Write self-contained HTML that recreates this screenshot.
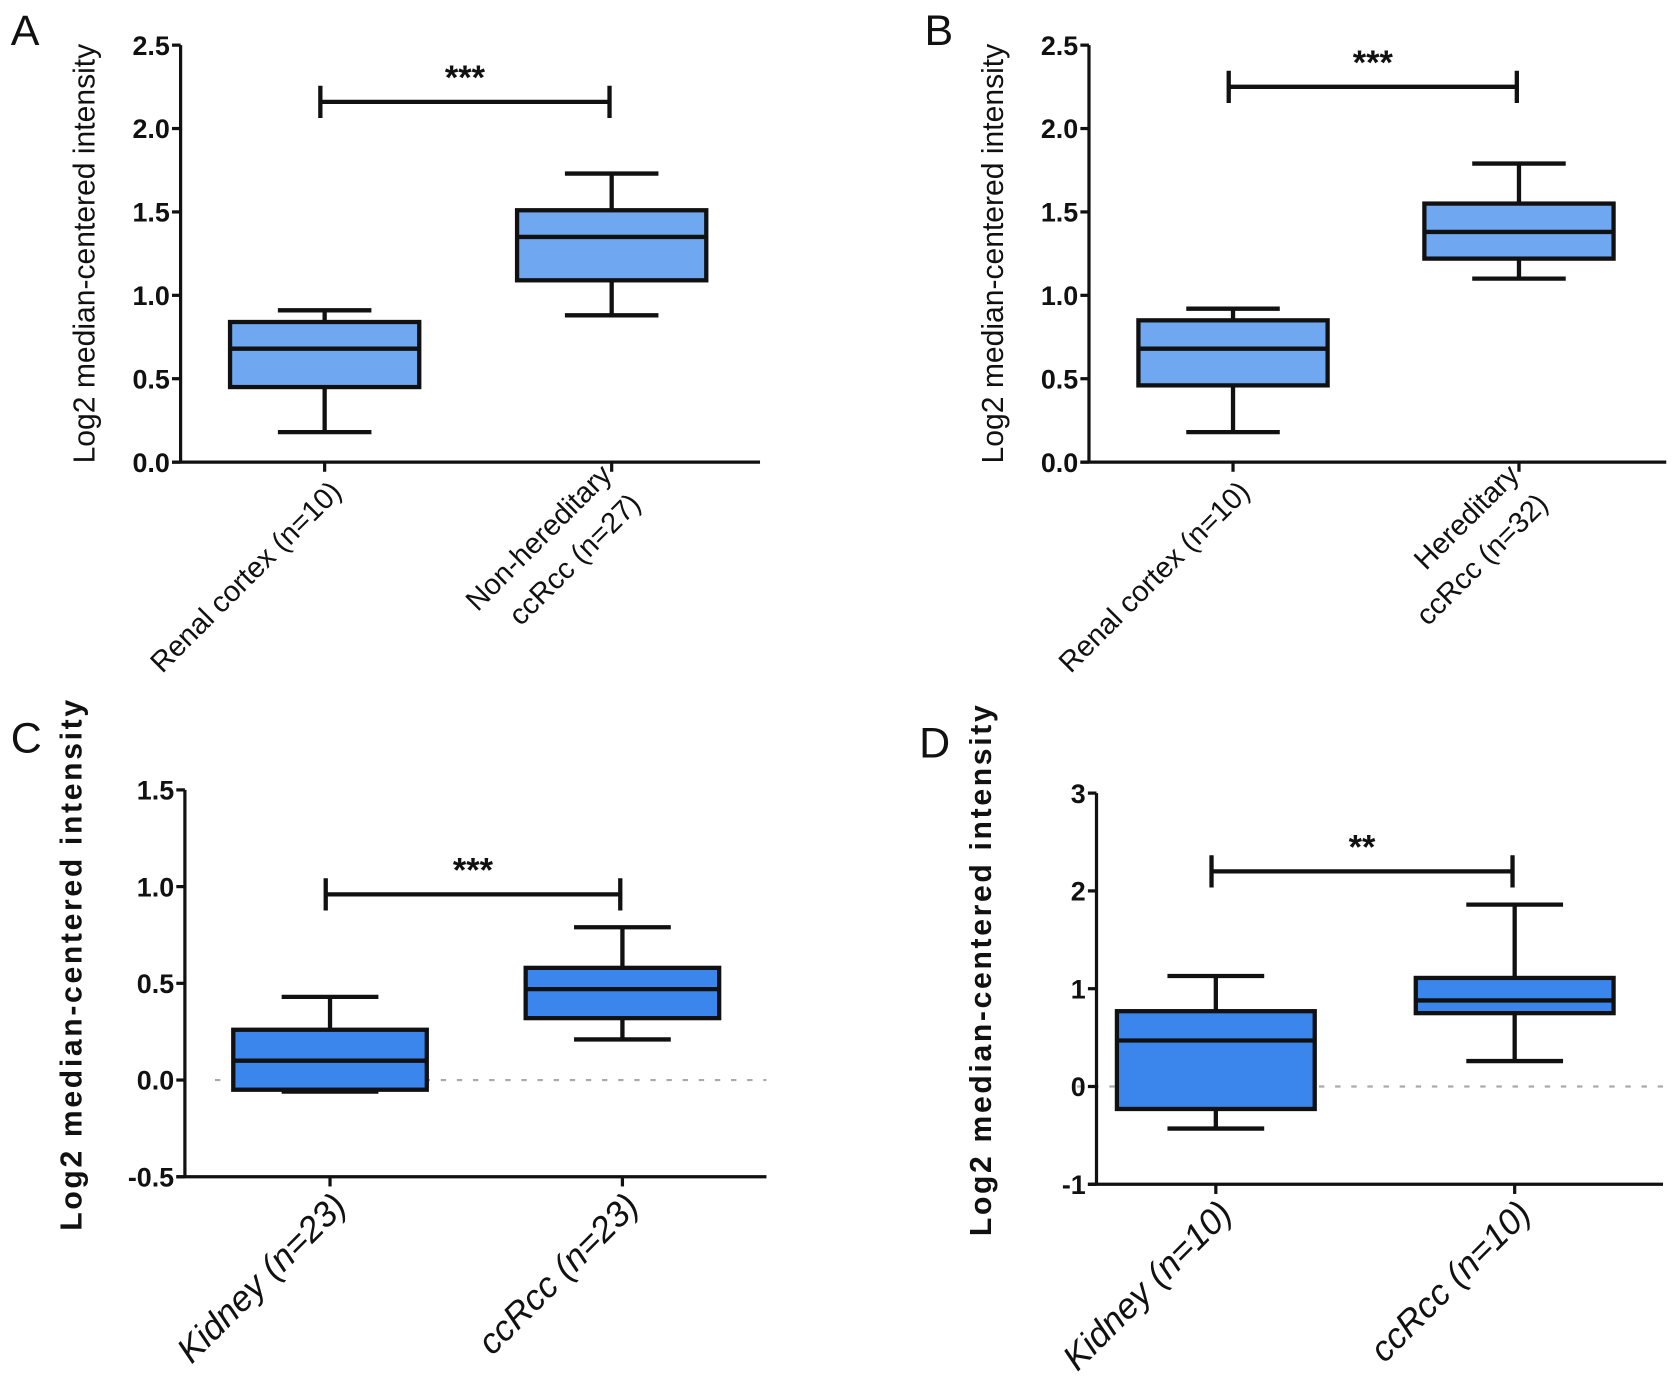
<!DOCTYPE html>
<html><head><meta charset="utf-8"><style>
html,body{margin:0;padding:0;background:#fff}
svg{display:block}
text{font-family:"Liberation Sans",Arial,sans-serif;fill:#111}
</style></head><body>
<svg id="fig" width="1677" height="1396" viewBox="0 0 1560 1299" preserveAspectRatio="none" xmlns="http://www.w3.org/2000/svg"></svg>
<script>
// Panel data
const panelLetters = ["A","B","C","D"];
const catsA = [["Renal cortex (n=10)"],["Non-hereditary","ccRcc (n=27)"]];
const catsB = [["Renal cortex (n=10)"],["Hereditary","ccRcc (n=32)"]];
const catsC = [["Kidney (n=23)"],["ccRcc (n=23)"]];
const catsD = [["Kidney (n=10)"],["ccRcc (n=10)"]];
// [whiskerLow, q1, median, q3, whiskerHigh]
const boxesA = [[0.18,0.45,0.68,0.84,0.91],[0.88,1.09,1.35,1.51,1.73]];
const boxesB = [[0.18,0.46,0.68,0.85,0.92],[1.10,1.22,1.38,1.55,1.79]];
const boxesC = [[-0.06,-0.05,0.10,0.26,0.43],[0.21,0.32,0.47,0.58,0.79]];
const boxesD = [[-0.43,-0.23,0.47,0.77,1.13],[0.26,0.75,0.88,1.11,1.86]];
const ticksA = [0,0.5,1.0,1.5,2.0,2.5];
const ticksB = [0,0.5,1.0,1.5,2.0,2.5];
const ticksC = [-0.5,0,0.5,1.0,1.5];
const ticksD = [-1,0,1,2,3];
const tickLabelsA = ["0.0","0.5","1.0","1.5","2.0","2.5"];
const tickLabelsB = ["0.0","0.5","1.0","1.5","2.0","2.5"];
const tickLabelsC = ["-0.5","0.0","0.5","1.0","1.5"];
const tickLabelsD = ["-1","0","1","2","3"];
const bracketY = [2.16, 2.25, 0.96, 2.2];
const sigLabels = ["***","***","***","**"];

const NS="http://www.w3.org/2000/svg";
const svg=document.getElementById('fig');
function mk(tag,attrs,parent){const e=document.createElementNS(NS,tag);for(const k in attrs)e.setAttribute(k,attrs[k]);(parent||svg).appendChild(e);return e;}

const layouts=[
 {ax:168,top:42,bot:430,xEnd:707,cx:[302,569],bw:176,cap:87,fill:"#6fa8f0",lx:10,ly:42,tx:88,zero:false,italic:false,zx:0},
 {ax:1013,top:42,bot:430,xEnd:1550,cx:[1147,1413],bw:176,cap:87,fill:"#6fa8f0",lx:860,ly:42,tx:933,zero:false,italic:false,zx:0},
 {ax:172,top:735,bot:1095,xEnd:713,cx:[307,579],bw:180,cap:90,fill:"#3a86ec",lx:10,ly:700,tx:76,zero:true,italic:true,zx:28},
 {ax:1020,top:738,bot:1102,xEnd:1547,cx:[1131,1409],bw:184,cap:90,fill:"#3a86ec",lx:855,ly:705,tx:922,zero:true,italic:true,zx:-18}
];
const allCats=[catsA,catsB,catsC,catsD];
const allBoxes=[boxesA,boxesB,boxesC,boxesD];
const allTicks=[ticksA,ticksB,ticksC,ticksD];
const allTL=[tickLabelsA,tickLabelsB,tickLabelsC,tickLabelsD];

layouts.forEach((L,p)=>{
 const g=mk('g',{});
 
 
 const ticks=allTicks[p];
 const lo=ticks[0], hi=ticks[ticks.length-1];
 const y=v=>L.bot-(v-lo)/(hi-lo)*(L.bot-L.top);
 const lt=mk('text',{x:L.lx,y:L.ly,'font-size':40},g);lt.textContent=panelLetters[p];
 
 
 if(L.zero){const zl=mk('line',{x1:L.ax+L.zx,x2:L.xEnd,y1:y(0),y2:y(0),stroke:'#aaa','stroke-width':2,'stroke-dasharray':'5 10'},g);
  
  }
 const ya=mk('line',{x1:L.ax,x2:L.ax,y1:L.top,y2:L.bot,stroke:'#111','stroke-width':3},g);
 
 
 const xa=mk('line',{x1:L.ax-8,x2:L.xEnd,y1:L.bot,y2:L.bot,stroke:'#111','stroke-width':3},g);
 
 
 ticks.forEach((t,i)=>{
  mk('line',{x1:L.ax-8,x2:L.ax,y1:y(t),y2:y(t),stroke:'#111','stroke-width':3},g);
  const tl=mk('text',{x:L.ax-10,y:y(t)+9,'font-size':25,'font-weight':'bold','text-anchor':'end'},g);
  tl.textContent=allTL[p][i];
  
  
 });
 const cy=(L.top+L.bot)/2+(L.italic?-18:0);
 const yt=mk('text',{x:L.tx,y:cy,'font-size':28,'text-anchor':'middle',transform:`rotate(-90 ${L.tx} ${cy})`,'font-weight':L.italic?'bold':'normal','letter-spacing':L.italic?'2.5':'0'},g);
 yt.textContent='Log2 median-centered intensity';
 
 
 allBoxes[p].forEach((b,i)=>{
  const cx=L.cx[i];
  const bg=mk('g',{},g);
  
  
  mk('line',{x1:cx,x2:cx,y1:y(b[0]),y2:y(b[4]),stroke:'#111','stroke-width':4},bg);
  mk('line',{x1:cx-L.cap/2,x2:cx+L.cap/2,y1:y(b[0]),y2:y(b[0]),stroke:'#111','stroke-width':4},bg);
  mk('line',{x1:cx-L.cap/2,x2:cx+L.cap/2,y1:y(b[4]),y2:y(b[4]),stroke:'#111','stroke-width':4},bg);
  mk('rect',{x:cx-L.bw/2,y:y(b[3]),width:L.bw,height:y(b[1])-y(b[3]),fill:L.fill,stroke:'#111','stroke-width':4},bg);
  mk('line',{x1:cx-L.bw/2,x2:cx+L.bw/2,y1:y(b[2]),y2:y(b[2]),stroke:'#111','stroke-width':4},bg);
  mk('line',{x1:cx,x2:cx,y1:L.bot,y2:L.bot+9,stroke:'#111','stroke-width':3},g);
  const lines=allCats[p][i];
  const fs=L.italic?33:27;
  const ax=cx+10, ay=L.bot+22;
  const t=mk('text',{x:ax,y:ay,'font-size':fs,'text-anchor':'end',transform:`rotate(-45 ${ax} ${ay})`,'font-style':L.italic?'italic':'normal'},g);
  
  
  lines.forEach((s,k)=>{const ts=mk('tspan',{x:ax,dy:k==0?(lines.length>1?-12:10):38},t);ts.textContent=s;});
 });
 const by=y(bracketY[p]);
 const x1=L.cx[0]-4,x2=L.cx[1]-2;
 const br=mk('path',{d:`M${x1} ${by-15}V${by+15}M${x1} ${by}H${x2}M${x2} ${by-15}V${by+15}`,stroke:'#111','stroke-width':4,fill:'none'},g);
 
 
 const st=mk('text',{x:(x1+x2)/2,y:by-12,'font-size':32,'font-weight':'bold','text-anchor':'middle'},g);
 st.textContent=sigLabels[p];
 
 
});
</script>
</body></html>
